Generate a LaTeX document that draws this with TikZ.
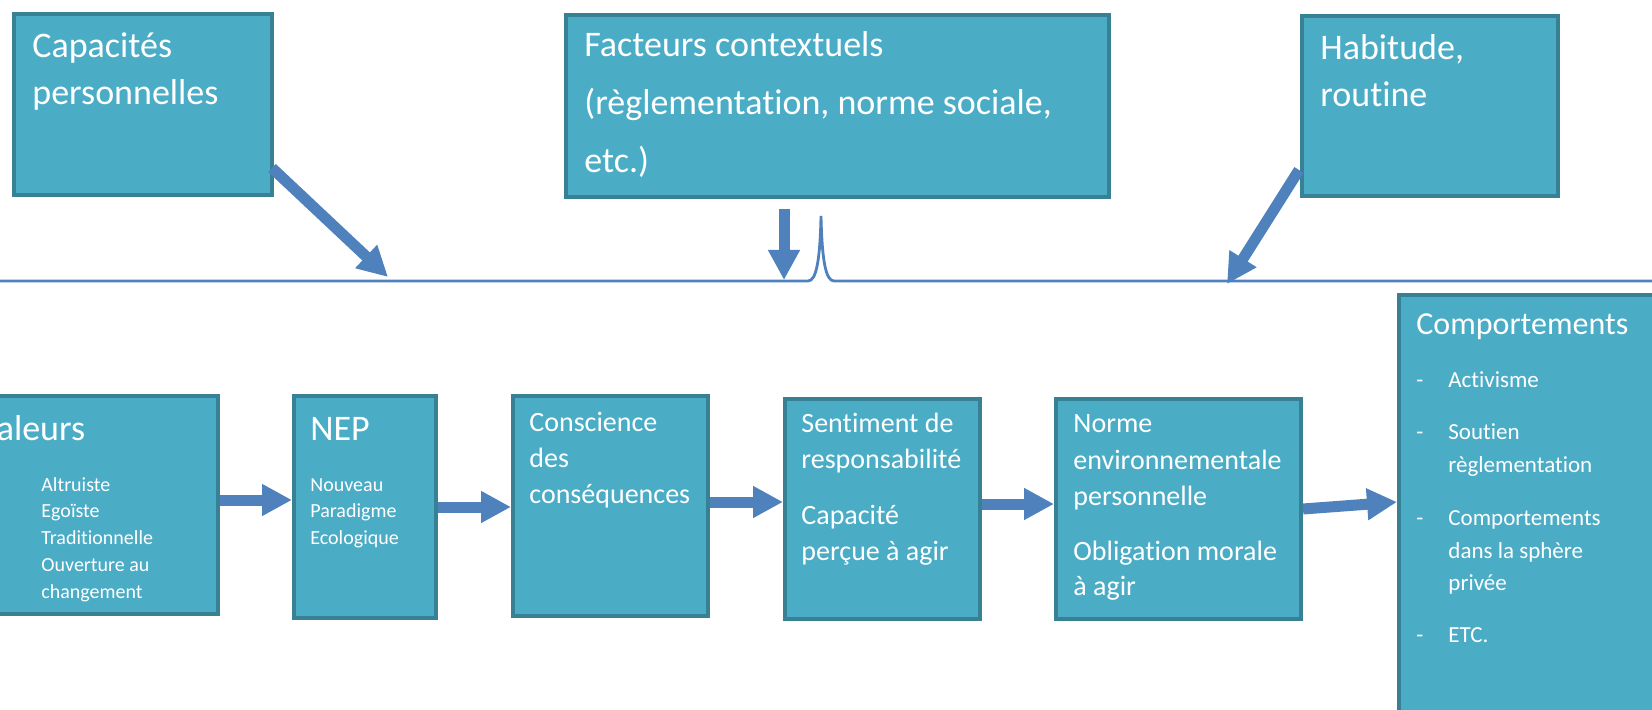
\documentclass[tikz,border=0pt]{standalone}
\usepackage{fontspec}
\setmainfont{Carlito}[Ligatures={NoCommon}]
\usetikzlibrary{arrows.meta,fit}
\definecolor{boxfill}{RGB}{75,172,198}
\definecolor{boxline}{RGB}{56,128,147}
\definecolor{arrblue}{RGB}{79,129,189}
\begin{document}
\begin{tikzpicture}[x=0.5pt,y=-0.5pt,
  box/.style={draw=boxline, fill=boxfill, line width=2pt, inner sep=0pt},
  arr/.style={draw=arrblue, line width=5.5pt, -{Triangle[length=15pt,width=15pt]}},
  hline/.style={draw=arrblue, line width=1.4pt},
  txt/.style={anchor=base west, inner sep=0pt, text=white},
  big/.style={txt, font=\fontsize{18}{22}\selectfont},
  ttl/.style={txt, font=\fontsize{16}{20}\selectfont},
  mid/.style={txt, font=\fontsize{14}{17}\selectfont},
  lst/.style={txt, font=\fontsize{11.5}{14}\selectfont},
  sml/.style={txt, font=\fontsize{10}{12}\selectfont}]
\useasboundingbox (0,0) rectangle (1652,710);
\clip (0,0) rectangle (1652,710);
% boxes
\node[box, fit={(14,14) (272,195)}] (cap) {};
\node[box, fit={(566,15) (1109,197)}] (fac) {};
\node[box, fit={(1302,16) (1558,196)}] (hab) {};
\node[box, fit={(-30,396) (218,614)}] (val) {};
\node[box, fit={(294,396) (436,618)}] (nep) {};
\node[box, fit={(513,396) (708,616)}] (con) {};
\node[box, fit={(785,399) (980,619)}] (sen) {};
\node[box, fit={(1056,399) (1301,619)}] (nor) {};
\node[box, fit={(1399,295) (1720,760)}] (com) {};
% horizontal line with bump
\coordinate (hl0) at (0,281);
\coordinate (hl1) at (1652,281);
\draw[hline] (hl0) -- (808,281) .. controls (816,281) and (820,262) .. (821,216)
  .. controls (822,262) and (826,281) .. (834,281) -- (hl1);
% arrows onto the line
\coordinate (capS) at (272,168);
\coordinate (capE) at (388,277);
\coordinate (facS) at (784,209);
\coordinate (facE) at (784,280);
\coordinate (habS) at (1299,170);
\coordinate (habE) at (1227,284);
\draw[arr] (capS) -- (capE);
\draw[arr] (facS) -- (facE);
\draw[arr] (habS) -- (habE);
% chain arrows
\coordinate (y500) at (0,500);
\coordinate (y507) at (0,507);
\coordinate (y502) at (0,502);
\coordinate (y504) at (0,504);
\coordinate (y509) at (0,509);
\draw[arr] (val.east |- y500) -- (nep.west |- y500);
\draw[arr] (nep.east |- y507) -- (con.west |- y507);
\draw[arr] (con.east |- y502) -- (sen.west |- y502);
\draw[arr] (sen.east |- y504) -- (nor.west |- y504);
\draw[arr] (nor.east |- y509) -- (com.west |- y502);
% texts top
\node[big] (t1) at (32,58) {Capacités};
\node[big] (t2) at (32,105) {personnelles};
\node[big] (t3) at (584,57) {Facteurs contextuels};
\node[big] (t4) at (584,115) {(règlementation, norme sociale,};
\node[big] (t5) at (584,173) {etc.)};
\node[big] (t6) at (1320,60) {Habitude,};
\node[big] (t7) at (1320,107) {routine};
% Valeurs
\node[big] (v0) at (-22,440) {Valeurs};
\node[sml] (v1) at (41,491) {Altruiste};
\node[sml] (v2) at (41,517) {Egoïste};
\node[sml] (v3) at (41,544) {Traditionnelle};
\node[sml] (v4) at (41,571) {Ouverture au};
\node[sml] (v5) at (41,598) {changement};
% NEP
\node[big] (n0) at (310,440) {NEP};
\node[sml] (n1) at (310,491) {Nouveau};
\node[sml] (n2) at (310,517) {Paradigme};
\node[sml] (n3) at (310,544) {Ecologique};
% Conscience
\node[mid] (c1) at (529,431) {Conscience};
\node[mid] (c2) at (529,467) {des};
\node[mid] (c3) at (529,503) {conséquences};
% Sentiment
\node[mid] (s1) at (801,433) {Sentiment de};
\node[mid] (s2) at (801,468) {responsabilité};
\node[mid] (s3) at (801,524) {Capacité};
\node[mid] (s4) at (801,560) {perçue à agir};
% Norme
\node[mid] (m1) at (1073,433) {Norme};
\node[mid] (m2) at (1073,469) {environnementale};
\node[mid] (m3) at (1073,505) {personnelle};
\node[mid] (m4) at (1073,560) {Obligation morale};
\node[mid] (m5) at (1073,595) {à agir};
% Comportements
\node[ttl] (k0) at (1416,335) {Comportements};
\node[lst] (d1) at (1416,388) {-};
\node[lst] (k1) at (1448,388) {Activisme};
\node[lst] (d2) at (1416,439) {-};
\node[lst] (k2) at (1448,439) {Soutien};
\node[lst] (k3) at (1448,473) {règlementation};
\node[lst] (d4) at (1416,525) {-};
\node[lst] (k4) at (1448,525) {Comportements};
\node[lst] (k5) at (1448,558) {dans la sphère};
\node[lst] (k6) at (1448,590) {privée};
\node[lst] (d7) at (1416,642) {-};
\node[lst] (k7) at (1448,642) {ETC.};
\end{tikzpicture}
\end{document}
